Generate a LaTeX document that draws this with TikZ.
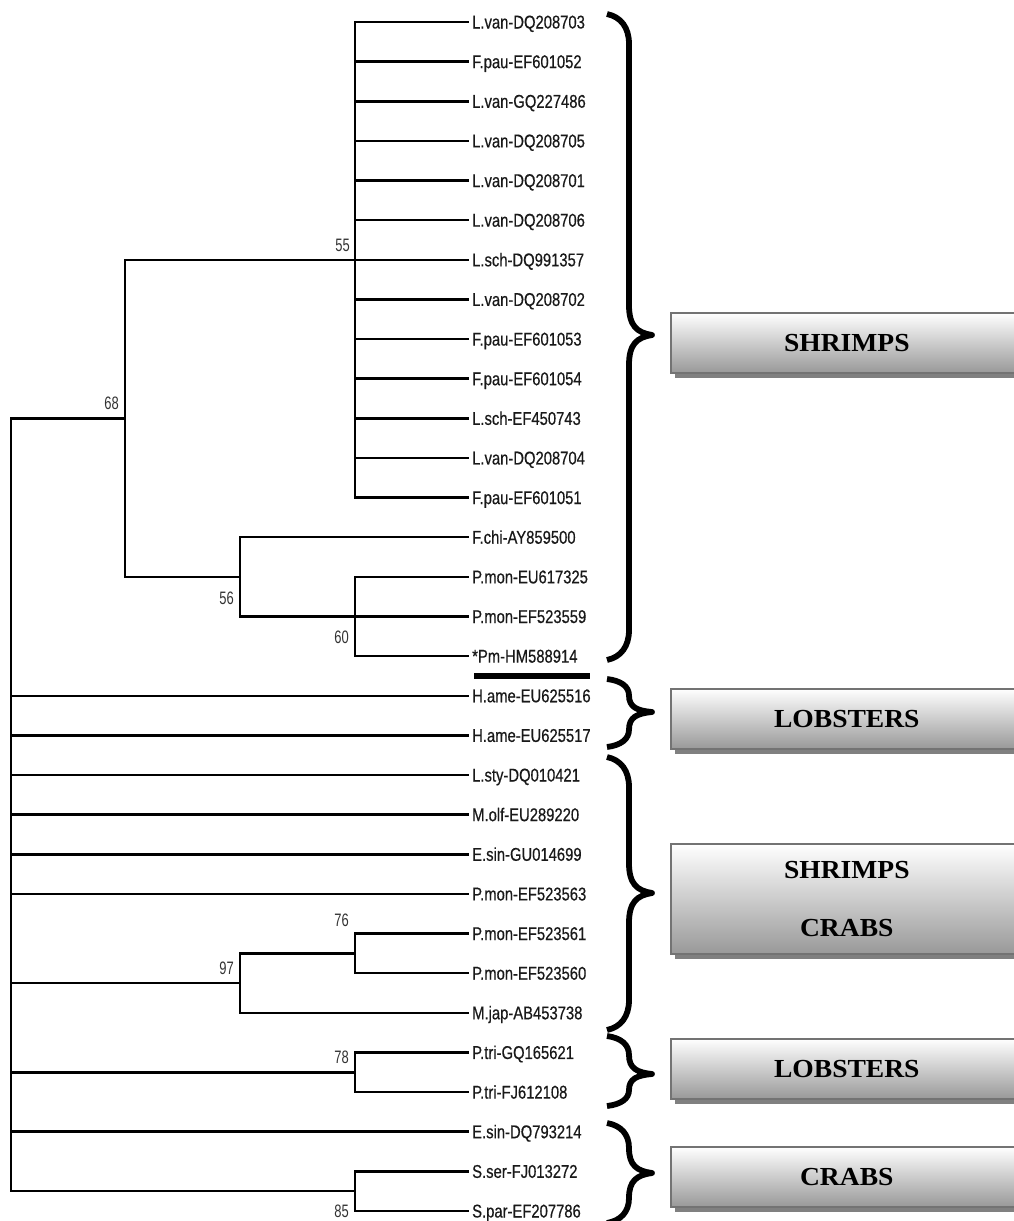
\documentclass[tikz,border=0pt]{standalone}
\usepackage{fontspec}
\newfontfamily\leaffont[FakeStretch=0.8,FakeBold=0.5]{Liberation Sans}
\newfontfamily\numfont[FakeStretch=0.72]{Liberation Sans}
\newfontfamily\boxfont[FakeStretch=1.06]{Liberation Serif}
\usetikzlibrary{shadows}
\tikzset{
  tree/.style={line width=2.5pt, line join=miter},
  leaf/.style={anchor=west, inner xsep=3pt, inner ysep=0pt, text height=13pt, text depth=0pt,
    font=\leaffont\fontsize{18.5}{20}\selectfont, text=black!90},
  boot/.style={anchor=east, inner sep=0pt, font=\numfont\fontsize{18}{20}\selectfont, text=black!80},
  bracestyle/.style={line width=5.8pt, line cap=butt, line join=round},
  grpbox/.style={draw=black!55, line width=1.6pt, top color=white, bottom color=black!40,
    minimum width=352pt, anchor=north west, inner sep=0pt, align=center,
    font=\boxfont\bfseries\fontsize{26}{58}\selectfont,
    drop shadow={shadow xshift=4pt, shadow yshift=-5pt, fill=black!50, opacity=1}}
}
\newcommand\mybrc[3]{%
  \pgfmathsetmacro\ra{min(30,(#2-#1)/2)}%
  \pgfmathsetmacro\rb{min(30,(#3-#2)/2)}%
  \draw[bracestyle] (607,#1) .. controls (621,#1+0.1*\ra) and (629,#1+0.45*\ra) .. (629,#1+\ra)
    -- (629,#2-\ra) .. controls (629,#2-0.3*\ra) and (637,#2-0.08*\ra) .. (652,#2)
    .. controls (637,#2+0.08*\rb) and (629,#2+0.3*\rb) .. (629,#2+\rb)
    -- (629,#3-\rb) .. controls (629,#3-0.45*\rb) and (621,#3-0.1*\rb) .. (607,#3);%
}
\begin{document}
\begin{tikzpicture}[x=1pt,y=-1pt]
\useasboundingbox (0,0) rectangle (1014,1221);
% leaves
\foreach \i/\t in {1/L.van-DQ208703,2/F.pau-EF601052,3/L.van-GQ227486,4/L.van-DQ208705,
  5/L.van-DQ208701,6/L.van-DQ208706,7/L.sch-DQ991357,8/L.van-DQ208702,9/F.pau-EF601053,
  10/F.pau-EF601054,11/L.sch-EF450743,12/L.van-DQ208704,13/F.pau-EF601051,14/F.chi-AY859500,
  15/P.mon-EU617325,16/P.mon-EF523559,17/*Pm-HM588914,18/H.ame-EU625516,19/H.ame-EU625517,
  20/L.sty-DQ010421,21/M.olf-EU289220,22/E.sin-GU014699,23/P.mon-EF523563,24/P.mon-EF523561,
  25/P.mon-EF523560,26/M.jap-AB453738,27/P.tri-GQ165621,28/P.tri-FJ612108,29/E.sin-DQ793214,
  30/S.ser-FJ013272,31/S.par-EF207786}
  \node[leaf] (L\i) at (469,{22+(\i-1)*39.633}) {\t};
% internal nodes
\coordinate (n55) at (355,259.8);
\coordinate (n60) at (355,616.5);
\coordinate (n56) at (240,576.9);
\coordinate (n68) at (125,418.3);
\coordinate (n76) at (355,953.4);
\coordinate (n97) at (240,983.1);
\coordinate (n78) at (355,1072.3);
\coordinate (n85) at (355,1190.8);
\coordinate (root) at (11,804.6);
% branches
\foreach \i in {1,...,13} \draw[tree] (n55) |- (L\i.west);
\foreach \i in {15,16,17} \draw[tree] (n60) |- (L\i.west);
\draw[tree] (n56) |- (L14.west);
\draw[tree] (n56) |- (n60);
\draw[tree] (n68) |- (n55);
\draw[tree] (n68) |- (n56);
\foreach \i in {24,25} \draw[tree] (n76) |- (L\i.west);
\draw[tree] (n97) |- (n76);
\draw[tree] (n97) |- (L26.west);
\foreach \i in {27,28} \draw[tree] (n78) |- (L\i.west);
\foreach \i in {30,31} \draw[tree] (n85) |- (L\i.west);
\draw[tree] (root) |- (n68);
\foreach \i in {18,...,23} \draw[tree] (root) |- (L\i.west);
\draw[tree] (root) |- (n97);
\draw[tree] (root) |- (n78);
\draw[tree] (root) |- (L29.west);
\draw[tree] (root) |- (n85);
% bootstrap values
\node[boot] (b68) at (119,403) {68};
\node[boot] (b55) at (350,245) {55};
\node[boot] (b56) at (234,598) {56};
\node[boot] (b60) at (349,637) {60};
\node[boot] (b76) at (349,920) {76};
\node[boot] (b97) at (234,968) {97};
\node[boot] (b78) at (349,1057) {78};
\node[boot] (b85) at (349,1211) {85};
% braces
\mybrc{14}{335}{660}
\mybrc{679}{712}{747}
\mybrc{757}{893}{1030}
\mybrc{1036}{1074}{1106}
\mybrc{1123}{1173}{1223}
\draw[line width=6pt] (474,676) -- (590,676);
% group boxes
\node[grpbox, minimum height=60pt] (g1) at (670,312) {SHRIMPS};
\node[grpbox, minimum height=60pt] (g2) at (670,688) {LOBSTERS};
\node[grpbox, minimum height=110pt] (g3) at (670,843) {SHRIMPS\\CRABS};
\node[grpbox, minimum height=60pt] (g4) at (670,1038) {LOBSTERS};
\node[grpbox, minimum height=60pt] (g5) at (670,1146) {CRABS};
\end{tikzpicture}
\end{document}
